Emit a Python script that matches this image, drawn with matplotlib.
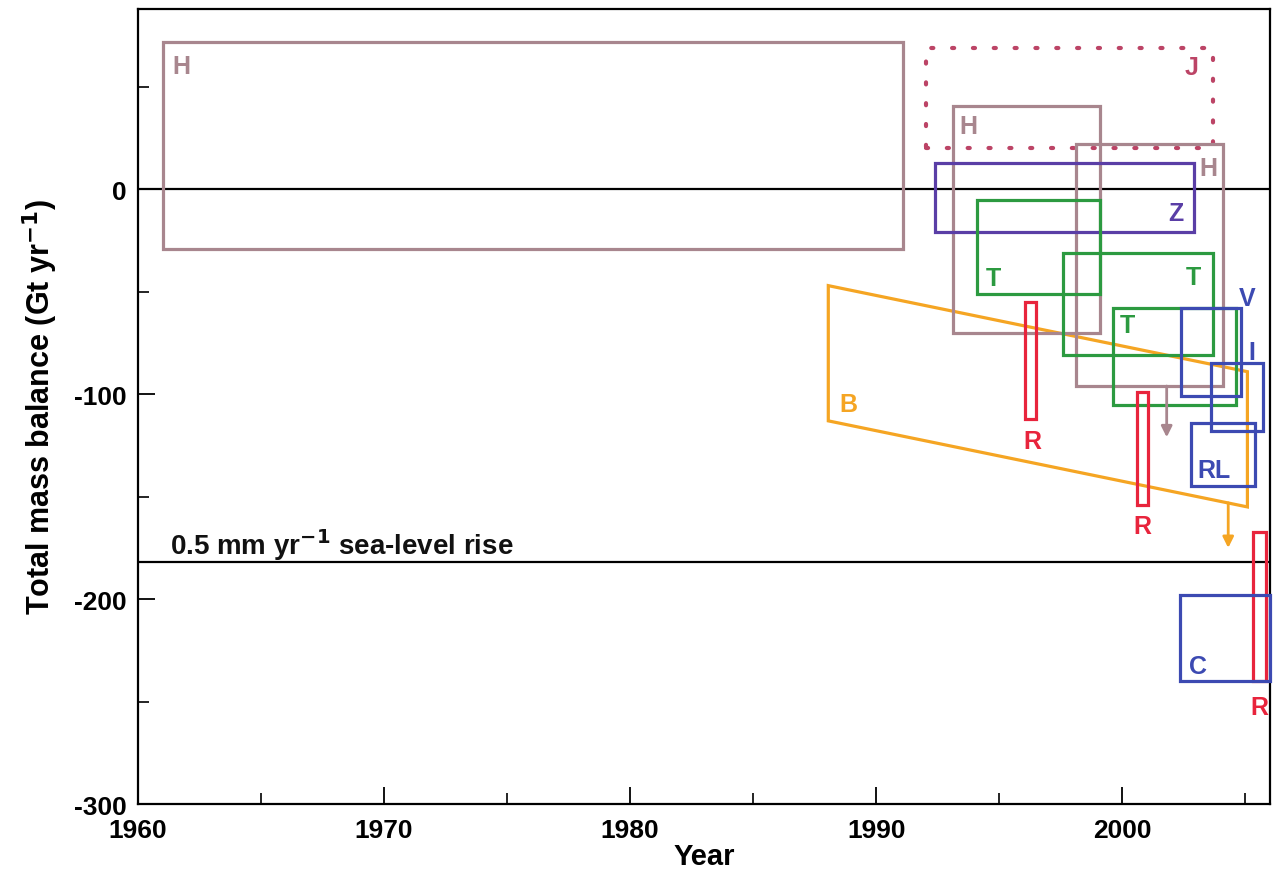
import matplotlib
matplotlib.use("Agg")
import matplotlib.pyplot as plt
from matplotlib.patches import Rectangle, Polygon
from matplotlib.ticker import MultipleLocator

# ---- data (years, Gt/yr) ----
box_labels = ["H", "J", "H", "H", "Z", "T", "T", "T", "R", "R", "R", "V", "I", "RL", "C"]
box_x0 = [1961.0, 1992.0, 1993.1, 1998.1, 1992.4, 1994.1, 1997.6, 1999.6, 1996.05, 2000.6, 2005.3, 2002.4, 2003.6, 2002.8, 2002.35]
box_x1 = [1991.1, 2003.7, 1999.1, 2004.1, 2002.9, 1999.1, 2003.7, 2004.6, 1996.5, 2001.05, 2005.85, 2004.8, 2005.7, 2005.4, 2006.0]
box_lo = [-29, 20, -70, -96, -21, -51, -81, -105.5, -112, -154, -240, -101, -118, -145, -240]
box_hi = [72, 69, 40.5, 22, 12.7, -5, -31, -58, -55, -98.7, -167, -58, -85, -114, -198]

# Box (B): trend band, years and bounds
b_years = [1988.05, 2005.08]
b_upper = [-47, -89]
b_lower = [-113, -155]

# arrows (lower limits)
arrow_x = [2001.8, 2004.3]
arrow_from = [-96, -153]
arrow_to = [-121, -175]

sea_level_rise = -182  # 0.5 mm/yr sea-level equivalent

x_ticks = [1960, 1970, 1980, 1990, 2000]
y_ticks = [-300, -200, -100, 0]

# ---- styles ----
c_H = "#a8868e"
c_J = "#bc4466"
c_Z = "#5a3ea6"
c_T = "#2c9a40"
c_R = "#e8243c"
c_B = "#3c4ab2"
c_O = "#f5a523"
box_colors = [c_H, c_J, c_H, c_H, c_Z, c_T, c_T, c_T, c_R, c_R, c_R, c_B, c_B, c_B, c_B]
box_styles = ["-", ":", "-", "-", "-", "-", "-", "-", "-", "-", "-", "-", "-", "-", "-"]
# label anchors (corner) and offsets in points
label_anchor = ["tl", "tr", "tl", "tr", "br", "bl", "tr", "tl", "bc", "bc", "bc", "tr", "tr", "bl", "bl"]
label_off = [(13.7, -17.3), (-16, -14), (11.5, -14.4), (-11, -17), (-13, 13.7), (11.5, 11.5),
             (-14.4, -17.3), (10.8, -12.2), (1.4, -16), (0, -15), (0, -18.7), (5, 7),
             (-8, 8.6), (16.5, 11.5), (13, 11)]

plt.rcParams['font.family'] = ['Liberation Sans', 'DejaVu Sans']
plt.rcParams['axes.unicode_minus'] = False
fig = plt.figure(figsize=(12.74, 8.78), dpi=100)
ax = fig.add_axes([0.1083, 0.0831, 0.8886, 0.9055])
ax.set_xlim(1960, 2006)
ax.set_ylim(-300, 88)

ax.axhline(0, color="black", lw=1.6, zorder=1)
ax.axhline(sea_level_rise, color="black", lw=1.6, zorder=1)

for lab, x0, x1, lo, hi, col, ls, anc, off in zip(box_labels, box_x0, box_x1, box_lo, box_hi,
                                                  box_colors, box_styles, label_anchor, label_off):
    if ls == ":":
        r = Rectangle((x0, lo), x1 - x0, hi - lo, fill=False, edgecolor=col, lw=3.0,
                      linestyle=(0, (0.5, 4.5)), capstyle="round", zorder=2)
    else:
        r = Rectangle((x0, lo), x1 - x0, hi - lo, fill=False, edgecolor=col, lw=2.3, zorder=3,
                      clip_on=False)
    ax.add_patch(r)
    if anc == "tl":
        xy = (x0, hi)
    elif anc == "tr":
        xy = (x1, hi)
    elif anc == "bl":
        xy = (x0, lo)
    elif anc == "br":
        xy = (x1, lo)
    else:
        xy = ((x0 + x1) / 2, lo)
    ax.annotate(lab, xy=xy, xytext=off, textcoords="offset points", ha="center", va="center",
                color=col, fontsize=18, fontweight="bold", zorder=5, annotation_clip=False)

poly = Polygon([(b_years[0], b_upper[0]), (b_years[1], b_upper[1]),
                (b_years[1], b_lower[1]), (b_years[0], b_lower[0])],
               closed=True, fill=False, edgecolor=c_O, lw=2.3, zorder=2)
ax.add_patch(poly)
ax.annotate("B", xy=(b_years[0], b_lower[0]), xytext=(14.4, 12), textcoords="offset points",
            ha="center", va="center", color=c_O, fontsize=18, fontweight="bold")

arrow_colors = [c_H, c_O]
for xa, ya, yb, col in zip(arrow_x, arrow_from, arrow_to, arrow_colors):
    ax.annotate("", xy=(xa, yb), xytext=(xa, ya),
                arrowprops=dict(arrowstyle="-|>", color=col, lw=2.0, mutation_scale=16,
                                shrinkA=0, shrinkB=0))

ax.text(1961.3, sea_level_rise + 9, "0.5 mm yr$^{\\mathbf{-1}}$ sea-level rise", ha="left", va="center",
        fontsize=20, fontweight="bold", color="#111111")

ax.set_xticks(x_ticks)
ax.set_yticks(y_ticks)
ax.xaxis.set_minor_locator(MultipleLocator(5))
ax.yaxis.set_minor_locator(MultipleLocator(50))
ax.tick_params(which="major", direction="in", length=12, width=1.3, labelsize=19)
ax.tick_params(which="minor", direction="in", length=8, width=1.2)
ax.tick_params(axis="x", pad=10)
ax.tick_params(axis="y", pad=8)
for lbl in ax.get_xticklabels() + ax.get_yticklabels():
    lbl.set_fontweight("bold")
for s in ax.spines.values():
    s.set_linewidth(1.6)

ax.set_xlabel("Year", fontsize=21, fontweight="bold", labelpad=0)
ax.set_ylabel("Total mass balance (Gt yr$^{\\mathbf{-1}}$)", fontsize=22, fontweight="bold", labelpad=10)

fig.savefig("out.png", dpi=100)
